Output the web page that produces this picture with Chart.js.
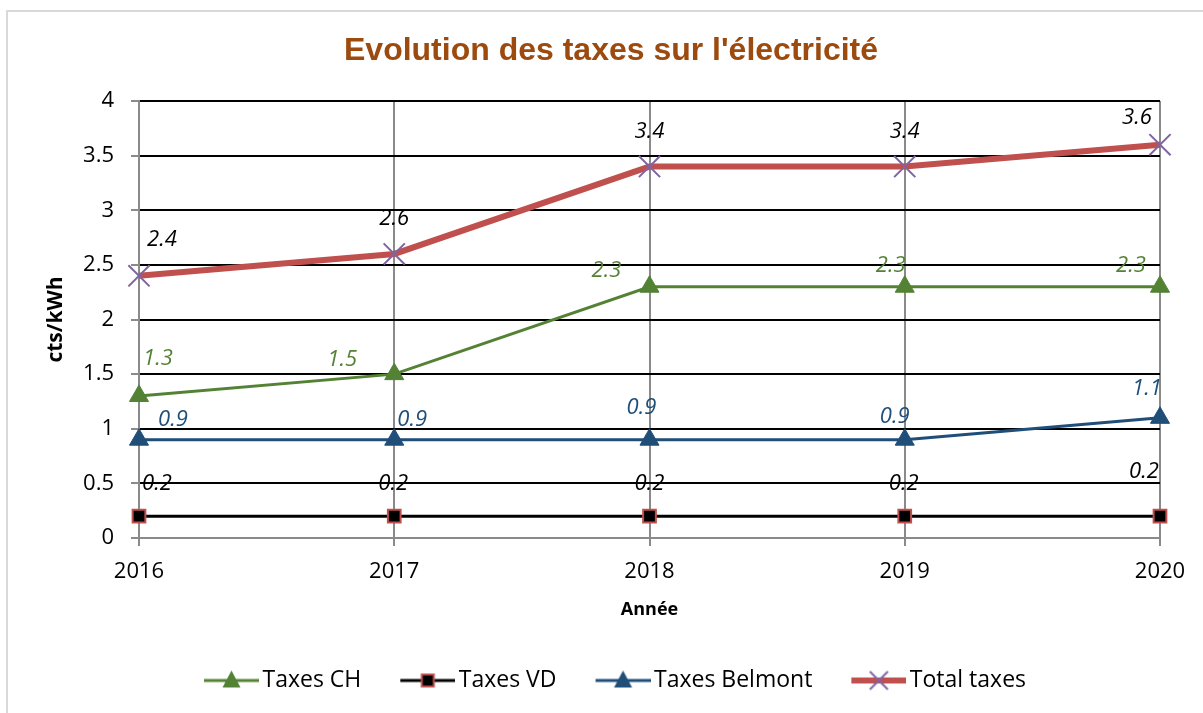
<!DOCTYPE html>
<html>
<head>
<meta charset="utf-8">
<script src="https://cdn.jsdelivr.net/npm/chart.js"></script>
<style>
  html, body { margin: 0; padding: 0; background: #fff; }
  #wrap { width: 1203px; height: 713px; position: relative; }
</style>
</head>
<body>
<div id="wrap"><canvas id="taxChart"></canvas></div>
<script>
// data
const years = ["2016", "2017", "2018", "2019", "2020"];
const taxesCH = [1.3, 1.5, 2.3, 2.3, 2.3];
const taxesVD = [0.2, 0.2, 0.2, 0.2, 0.2];
const taxesBelmont = [0.9, 0.9, 0.9, 0.9, 1.1];
const totalTaxes = [2.4, 2.6, 3.4, 3.4, 3.6];

const chartTitle = "Evolution des taxes sur l'électricité";
const GREEN = "#548235", BLUE = "#1f4e79", RED = "#c0504d", PURPLE = "#8064a2", GRAY = "#8a8a8a";

// where each value label sits relative to its point (dx, dy), one row per series
const labelOffsets = [
  [[19, -37], [-52, -14], [-43, -16], [-14, -21], [-29, -21]],
  [[18, -32], [-1, -32], [0, -32], [-1, -32], [-16, -44]],
  [[34, -20], [18, -20], [-8, -32], [-10, -23], [-13, -29]],
  [[23, -36], [0, -35], [0, -35], [0, -35], [-23, -27]]
];
const labelColors = [GREEN, "#000", BLUE, "#000"];

// legend icons: short line with the marker in the middle (transparent lead on the left)
function legendIcon(color, lineW, marker) {
  const c = document.createElement("canvas");
  c.width = 97; c.height = 26;
  const g = c.getContext("2d");
  g.strokeStyle = color; g.lineWidth = lineW;
  g.beginPath(); g.moveTo(42, 13); g.lineTo(97, 13); g.stroke();
  marker(g, 69.5, 13);
  return c;
}
function tri(fill) {
  return (g, x, y) => {
    g.fillStyle = fill;
    g.beginPath(); g.moveTo(x, y - 10); g.lineTo(x + 9, y + 7); g.lineTo(x - 9, y + 7); g.closePath(); g.fill();
  };
}
const icons = [
  legendIcon(GREEN, 3, tri(GREEN)),
  legendIcon("#000", 3, (g, x, y) => {
    g.fillStyle = "#000"; g.fillRect(x - 6, y - 6, 12, 12);
    g.strokeStyle = RED; g.lineWidth = 2; g.strokeRect(x - 6, y - 6, 12, 12);
  }),
  legendIcon(BLUE, 3, tri(BLUE)),
  legendIcon(RED, 6, (g, x, y) => {
    g.strokeStyle = PURPLE; g.lineWidth = 2;
    g.beginPath(); g.moveTo(x - 9, y - 9); g.lineTo(x + 9, y + 9);
    g.moveTo(x + 9, y - 9); g.lineTo(x - 9, y + 9); g.stroke();
  })
];

const frame = {
  id: "frame",
  beforeDraw(chart) {
    const ctx = chart.ctx;
    ctx.save();
    ctx.fillStyle = "#fff";
    ctx.fillRect(0, 0, chart.width, chart.height);
    ctx.strokeStyle = "#d9d9d9"; ctx.lineWidth = 2;
    ctx.beginPath();
    ctx.moveTo(7, chart.height); ctx.lineTo(7, 11); ctx.lineTo(chart.width, 11);
    ctx.stroke();
    // chart title, centred over the whole frame
    ctx.fillStyle = "#9c4a0e";
    ctx.font = "bold 32px 'Liberation Sans', Arial, sans-serif";
    ctx.textAlign = "center";
    ctx.textBaseline = "middle";
    ctx.fillText(chartTitle, 611, 51);
    ctx.restore();
  }
};

const valueLabels = {
  id: "valueLabels",
  afterDatasetsDraw(chart) {
    const ctx = chart.ctx;
    ctx.save();
    ctx.font = "italic 22px 'Open Sans'";
    ctx.textAlign = "center";
    ctx.textBaseline = "middle";
    chart.data.datasets.forEach((ds, i) => {
      const meta = chart.getDatasetMeta(i);
      ctx.fillStyle = labelColors[i];
      meta.data.forEach((pt, j) => {
        const off = labelOffsets[i][j];
        ctx.fillText(String(ds.data[j]), pt.x + off[0], pt.y + off[1]);
      });
    });
    ctx.restore();
  }
};

Chart.defaults.font.family = "'Open Sans', sans-serif";
Chart.defaults.color = "#000";

new Chart("taxChart", {
  type: "line",
  data: {
    labels: years,
    datasets: [
      {
        label: "Taxes CH", data: taxesCH,
        borderColor: GREEN, backgroundColor: GREEN, borderWidth: 3,
        pointStyle: "triangle", pointRadius: 11, pointBackgroundColor: GREEN, pointBorderColor: GREEN, pointBorderWidth: 1
      },
      {
        label: "Taxes VD", data: taxesVD,
        borderColor: "#000", backgroundColor: "#000", borderWidth: 3,
        pointStyle: "rect", pointRadius: 9, pointBackgroundColor: "#000", pointBorderColor: RED, pointBorderWidth: 2
      },
      {
        label: "Taxes Belmont", data: taxesBelmont,
        borderColor: BLUE, backgroundColor: BLUE, borderWidth: 3,
        pointStyle: "triangle", pointRadius: 11, pointBackgroundColor: BLUE, pointBorderColor: BLUE, pointBorderWidth: 1
      },
      {
        label: "Total taxes", data: totalTaxes,
        borderColor: RED, backgroundColor: RED, borderWidth: 6,
        pointStyle: "crossRot", pointRadius: 15, pointBorderColor: PURPLE, pointBorderWidth: 2
      }
    ]
  },
  options: {
    responsive: true,
    maintainAspectRatio: false,
    animation: false,
    layout: { padding: { left: 36, right: 43, top: 101, bottom: 11 } },
    elements: { line: { tension: 0 } },
    scales: {
      x: {
        afterFit(s) { s.height = 126; },
        grid: { color: GRAY, lineWidth: 2, tickLength: 8, tickColor: GRAY },
        border: { color: GRAY, width: 2 },
        ticks: { font: { size: 22 }, padding: 13, color: "#000" },
        title: { display: true, text: "Année", font: { size: 18, weight: "bold" }, padding: { top: 0, bottom: 43 }, color: "#000" }
      },
      y: {
        min: 0, max: 4,
        afterFit(s) { s.width = 103; },
        grid: {
          color: (c) => (c.tick && c.tick.value === 0 ? GRAY : "#000"),
          lineWidth: 2, tickLength: 8, tickColor: GRAY
        },
        border: { color: GRAY, width: 2 },
        ticks: { stepSize: 0.5, font: { size: 22 }, padding: 17, color: "#000", callback: (v) => String(v) },
        title: { display: true, text: "cts/kWh", font: { size: 21, weight: "bold" }, padding: { top: 7, bottom: 0 }, color: "#000" }
      }
    },
    plugins: {
      title: { display: false },
      legend: {
        position: "bottom",
        labels: {
          usePointStyle: true,
          pointStyleWidth: 81,
          padding: 5,
          color: "#000",
          font: { size: 23 },
          generateLabels(chart) {
            const items = Chart.defaults.plugins.legend.labels.generateLabels(chart);
            items.forEach((it, i) => { it.pointStyle = icons[i]; });
            return items;
          }
        }
      },
      tooltip: { enabled: false }
    }
  },
  plugins: [frame, valueLabels]
});
</script>
</body>
</html>
